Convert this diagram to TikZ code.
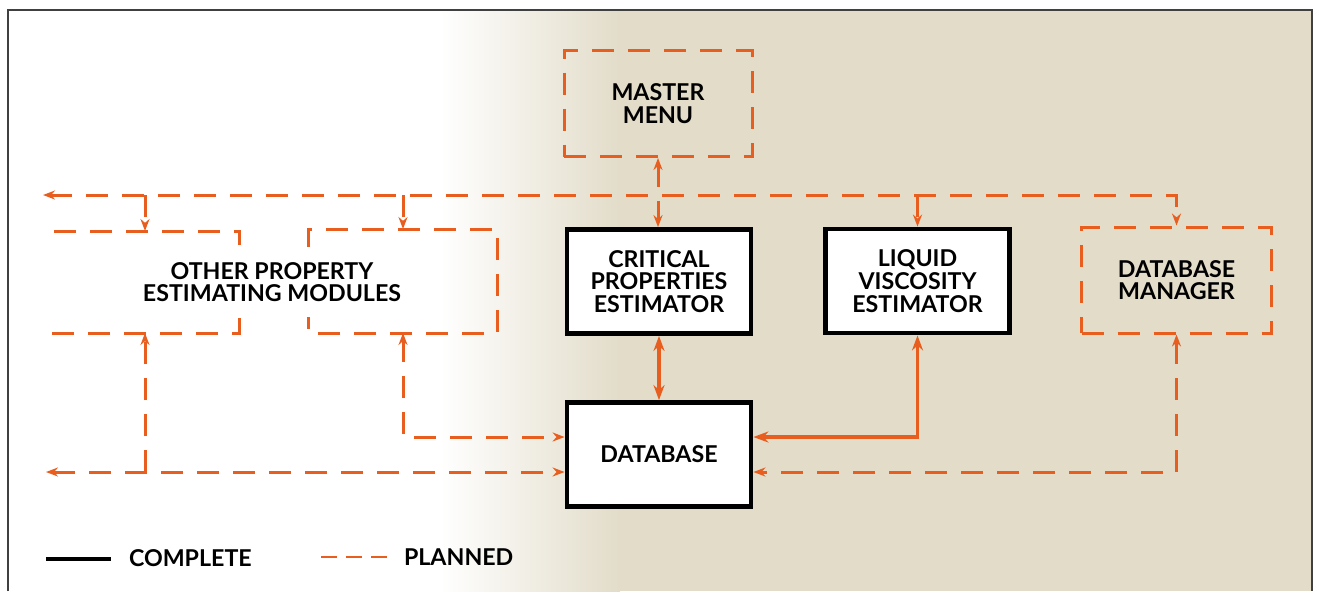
\documentclass[tikz,border=0pt]{standalone}
\usepackage{fontspec}
\setmainfont{Lato}
\usetikzlibrary{arrows.meta}
\definecolor{plan}{RGB}{231,94,30}
\definecolor{paper}{RGB}{226,220,201}
\begin{document}
\begin{tikzpicture}[x=0.5pt, y=-0.5pt,
  every node/.style={font=\bfseries\fontsize{11.6}{11.4}\selectfont, align=center},
  planned/.style={draw=plan, line width=1.5pt, dash pattern=on 11pt off 7pt},
  done/.style={draw=plan, line width=1.6pt},
  tip/.style={-{Stealth[length=6pt,width=4.5pt]}},
  tips/.style={{Stealth[length=6pt,width=4.5pt]}-{Stealth[length=6pt,width=4.5pt]}},
  bigtips/.style={{Stealth[length=7.5pt,width=5.5pt]}-{Stealth[length=7.5pt,width=5.5pt]}},
  donebox/.style={draw=black, line width=2.4pt, fill=white, minimum width=92pt, minimum height=52pt},
  planbox/.style={planned, minimum width=94pt, minimum height=53pt}]
  \useasboundingbox (0,0) rectangle (1320,591);
  \fill[white] (0,0) rectangle (1320,591);
  \shade[left color=white, right color=paper] (440,10) rectangle (620,591);
  \fill[paper] (620,10) rectangle (1312,591);
  \draw[line width=1pt, black!75] (8,591) -- (8,10) -- (1312,10) -- (1312,591);
  % modules
  \node[planbox] (master) at (658,103.5) {MASTER\\MENU};
  \node[donebox] (crit) at (659,281.5) {CRITICAL\\PROPERTIES\\ESTIMATOR};
  \node[donebox] (lve) at (917.5,281) {LIQUID\\VISCOSITY\\ESTIMATOR};
  \node[planbox, minimum width=95pt] (dbm) at (1176.5,280) {DATABASE\\MANAGER};
  \node[donebox] (db) at (659,454.5) {DATABASE};
  % other modules, broken boxes
  \draw[planned] (54,231) -- (239,231) -- (239,245); \draw[planned] (52,333) -- (239,333) -- (239,317);
  \draw[planned] (308,247) -- (308,229) -- (497,229) -- (497,333) -- (308,333) -- (308,317);
  \node (others) at (272,282) {OTHER PROPERTY\\ESTIMATING MODULES};
  \coordinate (oLt) at (145,231); \coordinate (oLb) at (145,333);
  \coordinate (oRt) at (403,229); \coordinate (oRb) at (403,333);
  \coordinate (busL) at (43,195); \coordinate (lowL) at (46,472); \coordinate (midL) at (403,437);
  % links
  \draw[planned, tips] (busL) -- (busL -| dbm.north) -- (dbm.north);
  \draw[planned, tip] (busL -| oLt) -- (oLt); \draw[planned, tip] (busL -| oRt) -- (oRt);
  \draw[planned, tip] (busL -| lve.north) -- (lve.north);
  \draw[planned, tips] (master.south) -- (master.south |- crit.north);
  \draw[planned, tips] (lowL) -- (lowL -| db.west); \draw[planned, tip] (lowL -| oLb) -- (oLb);
  \draw[planned, tips] (oRb) -- (midL) -- (midL -| db.west);
  \draw[planned, tips] (dbm.south) -- (dbm.south |- lowL) -- (lowL -| db.east);
  \draw[done, bigtips] (crit.south) -- (db.north);
  \draw[done, bigtips] (lve.south) -- (lve.south |- midL) -- (midL -| db.east);
  % legend
  \coordinate (k1) at (46,559); \coordinate (k2) at (111,559);
  \coordinate (k3) at (321,557); \coordinate (k4) at (387,557);
  \draw[black, line width=2pt] (k1) -- (k2); \node[anchor=west] (kdone) at (122,558) {COMPLETE};
  \draw[plan, line width=1.3pt, dash pattern=on 8pt off 4.5pt] (k3) -- (k4);
  \node[anchor=west] (kplan) at (397,557) {PLANNED};
\end{tikzpicture}
\end{document}
